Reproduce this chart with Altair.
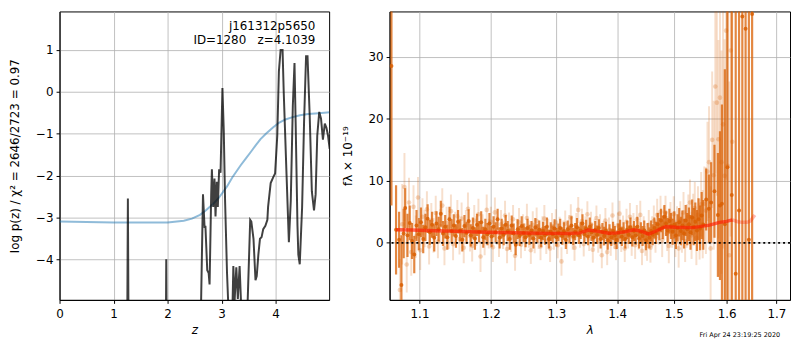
import altair as alt
import pandas as pd

FONT = "DejaVu Sans"

# ---------------- left panel: log p(z) ----------------
z_pz = [0.0, 1.24, 1.265, 1.29, 1.955, 1.975, 1.995, 2.60, 2.655, 2.685,
        2.70, 2.734, 2.76, 2.777, 2.807, 2.82, 2.844, 2.868, 2.887, 2.911,
        2.93, 2.954, 2.98, 3.015, 3.04, 3.064, 3.10, 3.13, 3.17, 3.20,
        3.217, 3.24, 3.272, 3.30, 3.333, 3.37, 3.42, 3.47, 3.529, 3.55,
        3.59, 3.627, 3.65, 3.68, 3.71, 3.74, 3.77, 3.81, 3.847, 3.86,
        3.908, 3.958, 3.99, 4.03, 4.06, 4.092, 4.128, 4.15, 4.202, 4.245,
        4.28, 4.318, 4.349, 4.37, 4.404, 4.42, 4.446, 4.49, 4.526, 4.563,
        4.59, 4.63, 4.67, 4.71, 4.74, 4.77, 4.807, 4.84, 4.875, 4.91,
        4.94, 4.97, 5.0]
logp_pz = [-9.0, -9.0, -2.55, -9.0, -9.0, -4.0, -9.0, -6.5, -2.45, -3.25,
           -3.2, -4.26, -4.33, -4.6, -2.45, -1.85, -2.75, -2.07, -2.98, -2.15,
           -2.75, -1.85, -1.93, 0.09, -0.94, -2.6, -4.33, -5.3, -5.8, -5.2,
           -4.16, -5.0, -4.19, -4.95, -4.16, -5.4, -6.0, -5.5, -3.06, -3.1,
           -3.51, -4.5, -4.4, -3.89, -3.51, -3.47, -3.28, -3.2, -3.06, -2.75,
           -2.18, -2.03, -1.95, -1.05, 0.49, 1.0, 1.0, -0.02, -1.99, -3.59,
           -2.6, -0.33, 0.69, -0.72, -3.2, -3.89, -4.12, -2.75, -0.72, 0.85,
           0.85, -0.56, -2.38, -2.83, -2.45, -1.05, -0.48, -0.64, -1.14, -0.76,
           -0.86, -1.05, -1.36]

z_cum = [0.0, 1.0, 2.0, 2.3, 2.45, 2.6, 2.7, 2.85, 2.95, 3.1, 3.2, 3.35, 3.45,
         3.55, 3.63, 3.72, 3.82, 3.95, 4.06, 4.18, 4.3, 4.45, 4.6, 4.8, 5.0]
logp_cum = [-3.10, -3.12, -3.12, -3.08, -3.03, -2.94, -2.84, -2.67, -2.53,
            -2.26, -2.04, -1.76, -1.59, -1.42, -1.28, -1.13, -1.0, -0.85,
            -0.74, -0.66, -0.61, -0.56, -0.53, -0.51, -0.49]

ann_text = ["j161312p5650", "ID=1280\u00a0\u00a0\u00a0z=4.1039"]
ann_z = [4.734, 4.734]
ann_logp = [1.48, 1.15]

# ---------------- right panel: spectrum ----------------
lam_d = [1.063, 1.069, 1.073, 1.076, 1.079, 1.081, 1.084, 1.087, 1.090, 1.093,
         1.096, 1.099, 1.102, 1.105, 1.108, 1.111, 1.114, 1.117, 1.120, 1.123,
         1.126, 1.129, 1.132, 1.135, 1.138, 1.141, 1.144, 1.147, 1.150, 1.153,
         1.156, 1.159, 1.162, 1.165, 1.168, 1.171, 1.174, 1.177, 1.180, 1.183,
         1.186, 1.189, 1.192, 1.195, 1.198, 1.201, 1.204, 1.207, 1.210, 1.213,
         1.216, 1.219, 1.222, 1.225, 1.228, 1.231, 1.234, 1.237, 1.240, 1.243,
         1.246, 1.249, 1.252, 1.255, 1.258, 1.261, 1.264, 1.267, 1.270, 1.273,
         1.276, 1.279, 1.282, 1.285, 1.288, 1.291, 1.294, 1.297, 1.300, 1.303,
         1.306, 1.309, 1.312, 1.315, 1.318, 1.321, 1.324, 1.327, 1.330, 1.333,
         1.336, 1.339, 1.342, 1.345, 1.348, 1.351, 1.354, 1.357, 1.360, 1.363,
         1.366, 1.369, 1.372, 1.375, 1.378, 1.381, 1.384, 1.387, 1.390, 1.393,
         1.396, 1.399, 1.402, 1.405, 1.408, 1.411, 1.414, 1.417, 1.420, 1.423,
         1.426, 1.429, 1.432, 1.435, 1.438, 1.441, 1.444, 1.447, 1.450, 1.453,
         1.456, 1.459, 1.462, 1.465, 1.468, 1.471, 1.474, 1.477, 1.480, 1.483,
         1.486, 1.489, 1.492, 1.495, 1.498, 1.501, 1.504, 1.507, 1.510, 1.513,
         1.516, 1.519, 1.522, 1.525, 1.528, 1.531, 1.534, 1.537, 1.540, 1.543,
         1.546, 1.549, 1.552, 1.555, 1.5606, 1.5657, 1.570, 1.5764, 1.583, 1.587,
         1.5908, 1.5965, 1.6015, 1.610, 1.6178, 1.6244, 1.6309, 1.6374, 1.644, 1.6505]
flux_d = [28.5, 2.1, 0.5, -6.8, 1.5, 5.6, 1.2, 3.2, 0.3, -1.9,
          2.8, 1.4, 3.3, 0.6, 2.5, 3.9, 1.7, 2.9, 0.8, 3.1,
          2.2, 4.7, 1.5, 2.6, 0.9, 3.8, 1.9, 2.8, 1.1, 3.4,
          2.0, 0.5, 2.7, 1.6, 3.5, 1.2, 2.4, 0.7, 2.9, 1.8,
          3.3, 0.9, 2.2, 1.4, 3.1, 1.0, 2.6, 1.7, 3.8, 0.8,
          2.3, 1.3, 2.9, 1.9, 0.6, 2.8, 1.5, -0.3, 2.2, 1.1,
          2.7, 1.6, 0.9, 2.4, 1.3, 2.0, 0.7, 2.5, 1.5, 2.1,
          0.8, 1.9, 1.2, 2.6, 0.6, 1.8, 1.4, 2.3, 0.9, 1.7,
          2.4, 1.1, 1.9, 0.5, 2.2, 1.3, 2.8, 1.0, 1.8, 2.5,
          1.2, 2.0, 3.1, 1.4, 2.3, 1.0, 2.6, 1.7, 0.8, 2.1,
          1.3, 2.4, 0.6, 1.8, 1.1, 2.0, 0.4, 1.5, 0.9, 1.9,
          1.2, 0.5, 1.6, 2.2, 1.0, 1.8, 0.6, 2.1, 1.3, 2.5,
          0.9, 1.9, 1.2, 2.6, 0.7, 1.7, 1.1, 2.0, 0.4, 1.5,
          0.8, 1.9, 1.3, 2.4, 1.6, 3.0, 2.2, 3.6, 2.5, 4.2,
          3.1, 2.0, 3.5, 2.7, 1.8, 2.9, 1.2, 2.4, 3.3, 1.9,
          2.8, 1.5, 3.6, 2.2, 3.0, 1.7, 4.1, 2.6, 3.4, 2.0,
          3.8, 2.4, 4.4, 2.9, 7.0, 5.5, 6.5, 8.3, 4.5, 6.0,
          6.3, 3.0, 12.2, 7.7, -5.0, 5.2, 36.5, 34.5, 0.5, 36.9]
err_d = [22.5, 7.2, 4.5, 8.0, 4.0, 3.2, 3.5, 2.8, 2.9, 3.0,
         2.5, 2.6, 2.4, 2.3, 2.2, 2.3, 2.0, 2.1, 2.2, 2.0,
         2.0, 2.1, 2.0, 1.9, 2.0, 2.0, 1.9, 1.8, 1.9, 1.9,
         1.8, 1.9, 1.8, 1.8, 1.9, 1.8, 1.7, 1.8, 1.8, 1.7,
         1.8, 1.7, 1.7, 1.8, 1.7, 1.7, 1.7, 1.6, 1.7, 1.7,
         1.6, 1.7, 1.6, 1.6, 1.7, 1.6, 1.6, 1.7, 1.6, 1.6,
         1.6, 1.5, 1.6, 1.5, 1.6, 1.5, 1.6, 1.5, 1.5, 1.5,
         1.5, 1.5, 1.5, 1.5, 1.5, 1.5, 1.4, 1.5, 1.5, 1.4,
         1.5, 1.4, 1.4, 1.5, 1.4, 1.4, 1.5, 1.4, 1.4, 1.5,
         1.4, 1.4, 1.5, 1.4, 1.4, 1.4, 1.5, 1.4, 1.4, 1.4,
         1.5, 1.4, 1.5, 1.4, 1.5, 1.4, 1.5, 1.5, 1.4, 1.5,
         1.5, 1.5, 1.5, 1.5, 1.5, 1.5, 1.5, 1.5, 1.5, 1.6,
         1.5, 1.6, 1.5, 1.6, 1.6, 1.6, 1.6, 1.6, 1.6, 1.7,
         1.7, 1.7, 1.7, 1.7, 1.8, 1.8, 1.8, 1.9, 1.9, 1.9,
         2.0, 2.0, 2.0, 2.1, 2.1, 2.2, 2.2, 2.2, 2.3, 2.3,
         2.4, 2.4, 2.5, 2.6, 2.7, 2.8, 2.9, 3.0, 3.1, 3.3,
         3.4, 3.6, 3.8, 4.0, 5.0, 5.5, 6.5, 7.5, 10.0, 12.0,
         16.0, 25.0, 40.0, 45.0, 50.0, 50.0, 60.0, 60.0, 60.0, 60.0]

lam_l = [1.074, 1.077, 1.080, 1.083, 1.086, 1.089, 1.092, 1.095, 1.098, 1.101,
         1.104, 1.107, 1.110, 1.113, 1.116, 1.119, 1.122, 1.125, 1.128, 1.131,
         1.134, 1.137, 1.140, 1.143, 1.146, 1.149, 1.152, 1.155, 1.158, 1.161,
         1.164, 1.167, 1.170, 1.173, 1.176, 1.179, 1.182, 1.185, 1.188, 1.191,
         1.194, 1.197, 1.200, 1.203, 1.206, 1.209, 1.212, 1.215, 1.218, 1.221,
         1.224, 1.227, 1.230, 1.233, 1.236, 1.239, 1.242, 1.245, 1.248, 1.251,
         1.254, 1.257, 1.260, 1.263, 1.266, 1.269, 1.272, 1.275, 1.278, 1.281,
         1.284, 1.287, 1.290, 1.293, 1.296, 1.299, 1.302, 1.305, 1.308, 1.311,
         1.314, 1.317, 1.320, 1.323, 1.326, 1.329, 1.332, 1.335, 1.338, 1.341,
         1.344, 1.347, 1.350, 1.353, 1.356, 1.359, 1.362, 1.365, 1.368, 1.371,
         1.374, 1.377, 1.380, 1.383, 1.386, 1.389, 1.392, 1.395, 1.398, 1.401,
         1.404, 1.407, 1.410, 1.413, 1.416, 1.419, 1.422, 1.425, 1.428, 1.431,
         1.434, 1.437, 1.440, 1.443, 1.446, 1.449, 1.452, 1.455, 1.458, 1.461,
         1.464, 1.467, 1.470, 1.473, 1.476, 1.479, 1.482, 1.485, 1.488, 1.491,
         1.494, 1.497, 1.500, 1.503, 1.506, 1.509, 1.512, 1.515, 1.518, 1.521,
         1.524, 1.527, 1.530, 1.533, 1.536, 1.539, 1.542, 1.545, 1.548, 1.551,
         1.554, 1.557, 1.560, 1.563, 1.566, 1.569, 1.572, 1.575, 1.578, 1.581,
         1.584, 1.587, 1.590, 1.593, 1.596, 1.599, 1.602, 1.605, 1.608, 1.611]
flux_l = [-7.6, 3.0, 9.0, -3.5, 6.5, -1.5, 5.8, 1.0, 7.3, -1.2,
          4.2, 2.3, 5.4, -0.6, 3.6, 1.2, 4.8, 0.2, 2.7, 6.0,
          -0.9, 3.2, 1.6, 5.1, -0.2, 2.4, 4.3, 0.6, 3.9, -0.8,
          2.8, 5.5, 1.1, -0.5, 3.6, 1.9, 4.6, -2.2, 2.2, 0.4,
          5.3, 1.5, 3.4, -0.7, 4.9, 2.0, 0.1, 3.0, 1.3, 4.4,
          -1.0, 2.6, 0.8, 3.8, -2.1, 1.7, 3.3, -0.3, 2.4, 0.9,
          4.0, 1.4, -1.2, 2.9, 0.5, 3.5, 1.1, -0.6, 2.2, 3.9,
          0.3, 1.8, -0.9, 2.7, 1.0, 3.3, -0.4, 2.1, -3.0, 1.6,
          3.1, 0.2, 2.5, 4.1, 0.9, -0.8, 2.8, 5.3, 1.2, 3.5,
          -0.2, 2.3, 4.6, 0.7, 3.0, -1.1, 1.9, 4.0, 0.4, 2.6,
          -2.0, 1.5, 3.6, -1.5, 2.1, 0.0, 4.4, 1.0, -0.7, 2.8,
          4.7, 0.6, 2.3, -0.9, 3.4, 1.3, 4.2, 0.1, 2.6, -0.4,
          3.8, 1.2, 4.5, -1.3, 2.0, 0.3, -0.5, 2.9, -0.8, 1.8,
          3.5, 0.9, 4.5, 2.3, 5.0, 0.4, 3.2, 4.9, 1.5, -0.5,
          3.8, 2.1, 4.6, 0.7, 2.9, -0.9, 3.6, 1.6, 4.9, 0.3,
          2.7, 4.2, 6.5, 1.2, 3.9, 5.6, 0.8, 4.5, 2.2, 6.2,
          3.0, 6.3, 5.2, 11.5, 13.0, -0.9, 16.6, 10.9, 25.2, 22.6,
          16.7, 23.4, 13.0, 19.1, 10.8, 34.2, 12.4, -2.0, 31.0, 16.3]
err_l = [5.0, 6.5, 5.5, 4.5, 4.0, 3.8, 3.5, 3.4, 3.3, 3.2,
         3.0, 3.0, 2.9, 2.9, 2.8, 2.8, 2.8, 2.7, 2.7, 2.8,
         2.7, 2.6, 2.6, 2.7, 2.6, 2.6, 2.6, 2.5, 2.6, 2.5,
         2.5, 2.6, 2.5, 2.5, 2.5, 2.4, 2.5, 2.5, 2.4, 2.4,
         2.5, 2.4, 2.4, 2.4, 2.4, 2.3, 2.4, 2.3, 2.3, 2.4,
         2.3, 2.3, 2.3, 2.3, 2.4, 2.2, 2.3, 2.2, 2.2, 2.2,
         2.3, 2.2, 2.2, 2.2, 2.2, 2.2, 2.1, 2.2, 2.1, 2.2,
         2.1, 2.1, 2.2, 2.1, 2.1, 2.1, 2.1, 2.1, 2.3, 2.0,
         2.1, 2.0, 2.0, 2.1, 2.0, 2.1, 2.0, 2.1, 2.0, 2.0,
         2.0, 2.0, 2.1, 2.0, 2.0, 2.1, 2.0, 2.0, 2.0, 2.0,
         2.1, 2.0, 2.0, 2.1, 2.0, 2.1, 2.1, 2.0, 2.1, 2.1,
         2.1, 2.1, 2.1, 2.2, 2.1, 2.2, 2.2, 2.2, 2.2, 2.2,
         2.3, 2.3, 2.3, 2.3, 2.3, 2.4, 2.4, 2.4, 2.4, 2.5,
         2.5, 2.5, 2.6, 2.6, 2.6, 2.7, 2.7, 2.7, 2.8, 2.8,
         2.8, 2.9, 2.9, 3.0, 3.0, 3.1, 3.1, 3.2, 3.3, 3.4,
         3.5, 3.6, 3.7, 3.8, 4.0, 4.2, 4.4, 4.6, 4.9, 5.2,
         5.5, 6.0, 7.0, 8.0, 9.0, 10.0, 11.0, 12.0, 14.0, 15.0,
         16.0, 17.0, 18.0, 20.0, 22.0, 24.0, 25.0, 28.0, 30.0, 32.0]

lam_model = [1.069, 1.09, 1.12, 1.15, 1.18, 1.21, 1.25, 1.29, 1.32, 1.338,
             1.352, 1.368, 1.385, 1.40, 1.415, 1.429, 1.442, 1.455, 1.468, 1.485,
             1.505, 1.536, 1.567, 1.586, 1.600, 1.611]
flux_model = [2.1, 2.05, 1.95, 1.85, 1.75, 1.68, 1.6, 1.52, 1.5, 1.6,
              2.05, 1.85, 1.55, 1.6, 1.8, 2.1, 1.85, 1.4, 1.9, 2.6,
              2.5, 2.45, 2.85, 3.3, 3.45, 3.7]
lam_model_tail = [1.611, 1.622, 1.631, 1.640, 1.647, 1.656]
flux_model_tail = [3.7, 3.4, 3.3, 3.3, 3.5, 4.5]

stamp_text = ["Fri Apr 24 23:19:25 2020"]
stamp_lam = [1.626]
stamp_flux = [-14.9]

W1, W2, H = 272, 404, 291
ORANGE = "#d95f02"

# ---------------- build left ----------------
pz = pd.DataFrame({"z": z_pz, "logp": logp_pz})
cum = pd.DataFrame({"z": z_cum, "logp": logp_cum})
ann = pd.DataFrame({"z": ann_z, "logp": ann_logp, "t": ann_text})

xz = alt.X("z:Q", scale=alt.Scale(domain=[0, 4.99], nice=False, zero=False),
           axis=alt.Axis(values=[0, 1, 2, 3, 4], title="z", titleFontStyle="italic",
                         format="d", labelFlush=False, labelOverlap=False))
yl = alt.Y("logp:Q", scale=alt.Scale(domain=[-4.97, 1.92], nice=False, zero=False),
           axis=alt.Axis(values=[-4, -3, -2, -1, 0, 1], format="d",
                         title="log p(z) / χ² = 2646/2723 = 0.97", titlePadding=14,
                         labelFlush=False, labelOverlap=False))

cum_line = alt.Chart(cum).mark_line(color="#1f77b4", opacity=0.5, strokeWidth=2, clip=True).encode(x=xz, y=yl)
pz_line = alt.Chart(pz).mark_line(color="black", opacity=0.75, strokeWidth=2, clip=True).encode(x=xz, y=yl)
ann_mark = alt.Chart(ann).mark_text(align="right", baseline="alphabetic", font=FONT, fontSize=12,
                                    color="black").encode(x=xz, y=yl, text="t:N")

left = alt.layer(cum_line, pz_line, ann_mark).properties(width=W1, height=H)

# ---------------- build right ----------------
dark = pd.DataFrame({"lam": lam_d, "f": flux_d, "e": err_d})
light = pd.DataFrame({"lam": lam_l, "f": flux_l, "e": err_l})
model = pd.DataFrame({"lam": lam_model, "f": flux_model})
model_tail = pd.DataFrame({"lam": lam_model_tail, "f": flux_model_tail})
stamp = pd.DataFrame({"lam": stamp_lam, "f": stamp_flux, "t": stamp_text})
zero = pd.DataFrame({"f": [0.0]})

xl = alt.X("lam:Q", scale=alt.Scale(type="log", domain=[1.0606, 1.7286], nice=False),
           axis=alt.Axis(values=[1.1, 1.2, 1.3, 1.4, 1.5, 1.6, 1.7], format=".1f",
                         title="λ", titleFontStyle="italic", labelFlush=False, labelOverlap=False))
yscale = alt.Scale(domain=[-9.2, 37.3], nice=False, zero=False)
yaxis = alt.Axis(values=[0, 10, 20, 30], format="d", title="fλ × 10⁻¹⁹",
                 titlePadding=14, labelFlush=False, labelOverlap=False)
yf = alt.Y("f:Q", scale=yscale, axis=yaxis)
ylo = alt.Y("lo:Q", scale=yscale, axis=yaxis)
yhi = alt.Y2("hi:Q")

def bars(df, opacity, width):
    return alt.Chart(df).transform_calculate(
        lo="datum.f - datum.e", hi="datum.f + datum.e"
    ).mark_rule(color=ORANGE, opacity=opacity, strokeWidth=width, clip=True).encode(x=xl, y=ylo, y2=yhi)

def dots(df, opacity, size):
    return alt.Chart(df).mark_circle(color=ORANGE, opacity=opacity, size=size, clip=True).encode(x=xl, y=yf)

light_bars = bars(light, 0.2, 2.0)
light_dots = dots(light, 0.25, 22)
dark_bars = bars(dark, 0.75, 2.2)
dark_dots = dots(dark, 0.85, 16)
model_line = alt.Chart(model).mark_line(color="#ff1a00", opacity=0.65, strokeWidth=3.5, clip=True).encode(x=xl, y=yf)
tail_line = alt.Chart(model_tail).mark_line(color="#ff1a00", opacity=0.3, strokeWidth=3.5, clip=True).encode(x=xl, y=yf)
zero_line = alt.Chart(zero).mark_rule(color="black", strokeDash=[2, 3], strokeWidth=1.8).encode(y=yf)
stamp_mark = alt.Chart(stamp).mark_text(font=FONT, fontSize=6.5, color="black", align="center",
                                        baseline="middle").encode(x=xl, y=yf, text="t:N")

right = alt.layer(light_bars, light_dots, dark_bars, dark_dots, model_line, tail_line,
                  zero_line, stamp_mark).properties(width=W2, height=H)

chart = alt.hconcat(left, right, spacing=10).properties(
    padding={"left": 0, "top": 1, "right": 0, "bottom": 0}
).configure_view(stroke="black", strokeWidth=1).configure_axis(
    domainColor="black", domainWidth=1, tickColor="black", tickSize=3.5, tickWidth=1,
    gridColor="#b0b0b0", gridWidth=0.8, labelFont=FONT, labelFontSize=12, labelColor="black",
    labelPadding=3, titleFont=FONT, titleFontSize=12, titleFontWeight="normal", titleColor="black"
).configure_axisX(labelPadding=5, titlePadding=5)

chart.save("out.html", embed_options={"renderer": "svg", "actions": False})
